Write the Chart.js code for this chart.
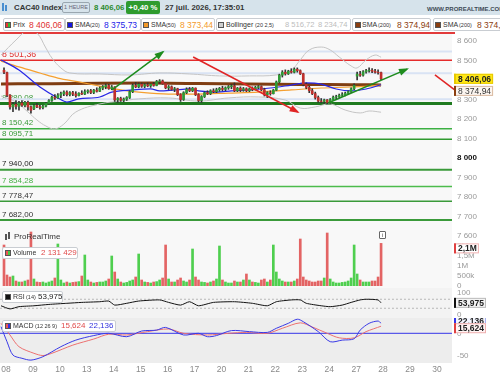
<!DOCTYPE html>
<html><head><meta charset="utf-8">
<script src="https://cdn.jsdelivr.net/npm/chart.js@4.4.1/dist/chart.umd.min.js"></script>
<style>
body{margin:0;width:500px;height:375px;overflow:hidden;background:#fff;font-family:"Liberation Sans",Arial,sans-serif;position:relative;color:#333}
.a{position:absolute;white-space:nowrap}
canvas{position:absolute;left:0}
.bx{position:absolute;border:1px solid #c9cdd2;border-radius:2px;background:#fff;box-sizing:border-box}
.ic{position:absolute;width:6px;height:6px;box-sizing:border-box;border:0.5px solid #555}
.n{font-size:7px;color:#333}
.p{font-size:5.5px;color:#333}
.v{font-size:8.5px}
.h{font-size:7.8px;font-weight:bold}
</style></head><body>
<!-- header -->
<div class="a" style="left:0;top:0;width:500px;height:15px;background:#d6e3eb"></div>
<div class="a" style="left:2px;top:3px;width:1.5px;height:8px;background:#4a8fd0"></div>
<div class="a" style="left:5px;top:5px;width:1.5px;height:6px;background:#4a8fd0"></div>
<div class="a h" style="left:14px;top:3px;color:#333">CAC40 Index</div>
<div class="a" style="left:62px;top:2px;height:11px;width:28px;border:1px solid #9aa7b0;border-radius:2px;box-sizing:border-box;font-size:5.5px;line-height:9px;text-align:center;color:#667">1 HEURE</div>
<div class="a h" style="left:94px;top:3px;color:#2b8a2b">8 406,06</div>
<div class="a" style="left:126px;top:1px;width:34px;height:13px;background:#2e9b2e;border-radius:2px;color:#fff;font-size:7.8px;font-weight:bold;line-height:13px;text-align:center">+0,40 %</div>
<div class="a h" style="left:165px;top:3px;color:#333">27 juil. 2026, 17:35:01</div>
<div class="a" style="left:427px;top:6px;font-size:6px;font-weight:bold;color:#3d4a55">WWW.PROREALTIME.COM</div>

<!-- legend row -->
<div class="bx" style="left:3px;top:18px;width:62px;height:13px"></div>
<div class="ic" style="left:5px;top:22px;background:linear-gradient(90deg,#e33 50%,#3b3 50%)"></div>
<div class="a n" style="left:13px;top:20.5px">Prix</div>
<div class="a v" style="left:29px;top:19.5px;color:#e03030">8 406,06</div>

<div class="bx" style="left:65px;top:18px;width:76px;height:13px"></div>
<div class="ic" style="left:67px;top:22px;background:#1515e0"></div>
<div class="a n" style="left:75px;top:20.5px">SMA</div>
<div class="a p" style="left:90px;top:21.5px">(20)</div>
<div class="a v" style="left:104px;top:19.5px;color:#2323e8">8 375,73</div>

<div class="bx" style="left:141px;top:18px;width:74px;height:13px"></div>
<div class="ic" style="left:143px;top:22px;background:#f39a2a"></div>
<div class="a n" style="left:151px;top:20.5px">SMA</div>
<div class="a p" style="left:166px;top:21.5px">(50)</div>
<div class="a v" style="left:180px;top:19.5px;color:#f39a2a">8 373,44</div>

<div class="bx" style="left:216px;top:18px;width:135px;height:13px"></div>
<div class="ic" style="left:218px;top:22px;background:#cfcfcf"></div>
<div class="a n" style="left:226px;top:20.5px">Bollinger</div>
<div class="a p" style="left:255px;top:21.5px">(20 2,5)</div>
<div class="a" style="left:285px;top:20px;font-size:7.6px;color:#bdbdbd">8 516,72</div>
<div class="a" style="left:318px;top:20px;font-size:7.6px;color:#bdbdbd">8 234,74</div>

<div class="bx" style="left:352px;top:18px;width:79px;height:13px"></div>
<div class="ic" style="left:355px;top:22px;background:#8b3e0f"></div>
<div class="a n" style="left:362px;top:20.5px">SMA</div>
<div class="a p" style="left:378px;top:21.5px">(200)</div>
<div class="a v" style="left:397px;top:19.5px;color:#8b3e0f">8 374,94</div>

<div class="bx" style="left:433px;top:18px;width:80px;height:13px"></div>
<div class="ic" style="left:435px;top:22px;background:#8b3e0f"></div>
<div class="a n" style="left:443px;top:20.5px">SMA</div>
<div class="a p" style="left:459px;top:21.5px">(200)</div>
<div class="a v" style="left:477px;top:19.5px;color:#8b3e0f">8 374,94</div>

<div class="a" style="left:0;top:32px;width:455px;height:1.5px;background:#e23b3b"></div>

<!-- panel backgrounds -->
<div class="a" style="left:0;top:34px;width:452px;height:254px;background:#f8f8f8"></div>
<div class="a" style="left:0;top:288px;width:452px;height:30px;background:#f3f3f3"></div>
<div class="a" style="left:0;top:318px;width:452px;height:45px;background:#ededed"></div>

<canvas id="cPrice" width="500" height="210" style="top:33px"></canvas>
<canvas id="cVol" width="500" height="64" style="top:226px"></canvas>
<canvas id="cRsi" width="500" height="30" style="top:288px"></canvas>
<canvas id="cMacd" width="500" height="57" style="top:318px"></canvas>

<!-- panel captions -->
<div class="a" style="left:5px;top:234px;width:1.5px;height:6px;background:#555"></div>
<div class="a" style="left:8px;top:232px;width:1.5px;height:7px;background:#555"></div>
<div class="a" style="left:14px;top:232px;font-size:8px;color:#333">ProRealTime</div>
<div class="a" style="left:379px;top:231px;width:7px;height:8px;border:1px solid #666;border-radius:1px;box-sizing:border-box;font-size:6px;line-height:6px;text-align:center;color:#444;background:#fff">i</div>

<div class="bx" style="left:2px;top:247px;width:76px;height:12px"></div>
<div class="ic" style="left:5px;top:250px;background:linear-gradient(90deg,#e55 50%,#4c4 50%)"></div>
<div class="a n" style="left:13px;top:249px">Volume</div>
<div class="a" style="left:41px;top:248px;font-size:8px;color:#e04a4a">2 131 429</div>

<div class="bx" style="left:2px;top:291px;width:61px;height:12px"></div>
<div class="ic" style="left:5px;top:294px;background:#111"></div>
<div class="a n" style="left:13px;top:293px">RSI</div>
<div class="a p" style="left:26px;top:294px">(14)</div>
<div class="a" style="left:38px;top:292px;font-size:8px;color:#222">53,975</div>

<div class="bx" style="left:2px;top:320px;width:114px;height:12px"></div>
<div class="ic" style="left:5px;top:323px;background:linear-gradient(90deg,#e55 50%,#33d 50%)"></div>
<div class="a n" style="left:13px;top:322px">MACD</div>
<div class="a p" style="left:35px;top:323px">(12 26 9)</div>
<div class="a" style="left:61px;top:321px;font-size:8px;color:#e04a4a">15,624</div>
<div class="a" style="left:89px;top:321px;font-size:8px;color:#3333dd">22,136</div>

<script>
// ---------- data ----------
const dayLabels = ['08','09','10','13','14','15','16','17','20','21','22','23','24','27','28','29','30'];
const firstIndex = -1; // first candle is the last hour of the previous session
const opens = [8450,
 8438,8322,8262,8275,8265,8282,8270,8285,8262,
 8252,8270,8262,8258,8266,8280,8295,8312,8308,
 8322,8330,8338,8325,8335,8328,8320,8332,8328,
 8340,8345,8336,8348,8342,8358,8366,8372,8356,
 8364,8298,8305,8296,8302,8310,8340,8372,8365,
 8378,8368,8375,8370,8378,8372,8392,8395,8382,
 8360,8365,8352,8355,8325,8300,8335,8352,8345,
 8358,8325,8295,8315,8335,8330,8345,8340,8350,
 8357,8352,8360,8366,8370,8345,8358,8348,8355,
 8345,8355,8350,8362,8366,8350,8325,8335,8330,
 8348,8390,8425,8440,8432,8445,8440,8455,8448,
 8432,8378,8362,8345,8330,8310,8292,8290,8298,
 8285,8300,8312,8315,8322,8325,8332,8340,8355,
 8420,8430,8425,8442,8448,8450,8445,8440,8438];
const highs = [8462,
 8440,8325,8285,8295,8290,8295,8290,8292,8268,
 8275,8280,8272,8270,8285,8300,8318,8325,8330,
 8338,8345,8345,8340,8342,8340,8335,8345,8350,
 8350,8352,8352,8360,8365,8372,8380,8378,8372,
 8366,8310,8312,8308,8315,8345,8380,8388,8385,
 8385,8382,8385,8380,8388,8398,8402,8400,8385,
 8372,8370,8362,8358,8330,8340,8360,8362,8362,
 8360,8330,8320,8340,8345,8350,8355,8358,8362,
 8368,8365,8372,8378,8385,8362,8365,8362,8360,
 8360,8365,8368,8372,8370,8358,8340,8345,8352,
 8395,8430,8448,8452,8450,8458,8462,8462,8452,
 8435,8385,8368,8355,8338,8318,8305,8302,8300,
 8305,8318,8322,8328,8335,8338,8345,8360,8380,
 8440,8445,8448,8455,8462,8458,8455,8452,8440];
const lows = [8432,
 8315,8250,8238,8250,8245,8265,8262,8245,8230,
 8248,8258,8250,8252,8262,8275,8290,8300,8305,
 8310,8320,8318,8318,8320,8312,8318,8325,8325,
 8332,8330,8330,8338,8340,8350,8355,8352,8350,
 8290,8285,8290,8288,8295,8305,8335,8360,8360,
 8362,8360,8365,8362,8368,8370,8382,8378,8355,
 8350,8348,8340,8320,8290,8295,8330,8340,8340,
 8320,8288,8285,8310,8325,8325,8335,8335,8342,
 8345,8345,8352,8355,8340,8340,8340,8342,8340,
 8340,8345,8348,8355,8345,8318,8310,8322,8328,
 8345,8385,8415,8425,8428,8435,8436,8440,8428,
 8370,8355,8335,8325,8302,8285,8282,8280,8278,
 8280,8295,8300,8310,8315,8318,8325,8335,8350,
 8400,8418,8420,8435,8440,8438,8435,8430,8402];
const closes = [8440,
 8322,8262,8275,8265,8282,8270,8285,8262,8245,
 8270,8262,8258,8266,8280,8295,8312,8308,8322,
 8330,8338,8325,8335,8328,8320,8332,8328,8340,
 8345,8336,8348,8342,8358,8366,8372,8356,8364,
 8298,8305,8296,8302,8310,8340,8372,8365,8378,
 8368,8375,8370,8378,8372,8392,8395,8382,8360,
 8365,8352,8355,8325,8300,8335,8352,8345,8358,
 8325,8295,8315,8335,8330,8345,8340,8350,8357,
 8352,8360,8366,8370,8345,8358,8348,8355,8345,
 8355,8350,8362,8366,8350,8325,8335,8330,8348,
 8390,8425,8440,8432,8445,8440,8455,8448,8432,
 8378,8362,8345,8330,8310,8292,8290,8298,8285,
 8300,8312,8315,8322,8325,8332,8340,8355,8372,
 8430,8425,8442,8448,8450,8445,8440,8438,8406.06];
const volumesM = [2.05,
 0.55,0.45,0.50,0.25,0.20,0.20,0.25,0.30,2.70,
 0.35,0.20,0.18,0.20,0.15,0.20,0.25,0.40,2.10,
 0.30,0.15,0.20,0.15,0.18,0.20,0.22,0.50,1.55,
 0.30,0.20,0.15,0.18,0.20,0.20,0.25,0.35,1.50,
 0.70,0.35,0.20,0.15,0.18,0.25,0.30,0.45,1.60,
 0.30,0.20,0.18,0.15,0.20,0.22,0.30,0.40,2.05,
 0.35,0.20,0.20,0.30,0.40,0.25,0.20,0.30,1.85,
 0.45,0.30,0.20,0.18,0.15,0.20,0.25,0.35,2.00,
 0.30,0.20,0.15,0.15,0.25,0.20,0.20,0.30,0.60,
 0.30,0.20,0.18,0.15,0.30,0.35,0.20,0.30,2.05,
 0.70,0.35,0.25,0.20,0.20,0.20,0.25,0.35,2.35,
 0.45,0.30,0.25,0.20,0.20,0.25,0.25,0.40,2.65,
 0.35,0.20,0.15,0.15,0.18,0.20,0.25,0.40,2.05,
 0.60,0.30,0.20,0.20,0.20,0.25,0.25,0.45,2.131429];

// indicator lines read at selected candle positions: [candle index, value]
const sma20 = [[-2,8503],[4,8451],[11,8364],[17,8308],[20,8287],[24,8303],[31,8313],[35,8338],[42,8349],[48,8354],[51,8344],[56,8349],[61,8354],[64,8344],[70,8338],[75,8344],[81,8349],[88,8359],[95,8374],[100,8385],[105,8379],[110,8354],[115,8344],[120,8354],[125,8375.73]];
const sma50 = [[-2,8497],[4,8467],[11,8436],[17,8410],[24,8390],[31,8369],[38,8349],[44,8338],[54,8328],[64,8328],[74,8333],[84,8338],[95,8349],[105,8359],[115,8364],[125,8373.44]];
const sma200 = [[-2,8380],[15,8381],[31,8383],[48,8384],[64,8382],[81,8379],[98,8377],[115,8376],[125,8374.94]];
const bollUpper = [[-2,8528],[3,8605],[7,8656],[10,8641],[13,8564],[15,8513],[18,8462],[21,8436],[31,8431],[41,8426],[51,8436],[61,8431],[71,8421],[81,8421],[90,8426],[95,8451],[98,8503],[101,8554],[105,8569],[108,8554],[111,8518],[115,8472],[117,8462],[120,8503],[123,8528],[125,8516.72]];
const bollLower = [[-2,8318],[3,8287],[7,8236],[10,8195],[13,8164],[16,8149],[19,8174],[23,8236],[31,8277],[38,8292],[44,8303],[54,8308],[64,8292],[74,8308],[84,8313],[93,8297],[98,8256],[103,8262],[108,8277],[113,8246],[118,8231],[121,8241],[125,8234.74]];
const rsi = [[-2,41],[1,27],[4,37],[9,41],[14,47],[20,52],[25,56],[31,59],[34,62],[36,44],[40,52],[44,62],[51,67],[54,56],[58,44],[61,59],[64,41],[69,56],[76,59],[82,52],[87,41],[90,59],[95,67],[98,67],[100,52],[105,41],[108,37],[112,44],[115,56],[118,67],[120,70],[124,67],[125,53.975]];
const macdLine = [[-2,14.6],[0,-18.5],[2,-48],[5,-55],[8,-59],[12,-51.5],[18,-29.5],[23,-15],[29,-5],[34,0],[40,-7.5],[45,5],[50,7],[53,13],[59,-3.7],[64,0],[67,-7.5],[70,-5],[75,6],[81,3.7],[87,2],[90,11],[94,22],[97,31],[99,25.6],[104,3.7],[108,-18.5],[112,-15],[116,-12],[118,7],[121,22],[124,27],[125,22.136]];
const macdSignal = [[-2,22],[1,-3.7],[4,-29.5],[9,-44],[12,-49],[15,-44],[22,-26],[29,-12.6],[34,-2],[40,-3.7],[47,3.7],[54,9.5],[59,0],[67,-3.7],[74,0],[80,2],[87,0],[92,11],[98,23],[102,14],[107,0],[111,-10],[116,-10],[120,3.7],[125,15.624]];

// horizontal levels and drawn trend arrows
const levelValues = [8501.36, 8280.08, 8150.42, 8095.71, 7940.00, 7854.28, 7778.47, 7682.00];
const guideValues = [8546, 8434, 8301];
const arrowsData = [
  [[35.1,8349],[52.1,8544]],
  [[62.2,8518],[97.2,8236]],
  [[107.3,8282],[133.7,8456]],
  [[143.0,8426],[149.6,8349]]
];
const priceTicks = [7600,7700,7800,7900,8000,8100,8200,8300,8400,8500,8600];
const volTicks = [0,0.5,1,1.5,2];
const volTickLabels = ['0','500k','1M','1,5M','2M'];
const rsiTicks = [0,100];
const macdTicks = [-50,0];

// ---------- styling ----------
const levelColors = ['#e52b2b','#1f7a1f','#3cb043','#2f9a2f','#3a9a3a','#4cbb4c','#3a9a3a','#3a9a3a'];
const levelWidths = [1.5,3,1.5,1.5,2,1.5,1.5,2];
const levelTextColors = ['#e03030','#3a9a3a','#3a9a3a','#3a9a3a','#222','#45b045','#333','#333'];
const levelTextSizes = [8.8,8,8,8,8,8,8,8];
const arrowColors = ['#1e8c1e','#e02525','#1e8c1e','#e02525'];
const FONT = '"Liberation Sans", Arial, sans-serif';
const xMin = -7/2.9926, xMax = 445/2.9926;

function fmtNum(v, dec){ const s = Math.abs(v).toFixed(dec); let [a,b] = s.split('.'); a = a.replace(/\B(?=(\d{3})+(?!\d))/g,' '); return (v<0?'-':'')+a+(b?','+b:''); }
const pts = arr => arr.map(p=>({x:p[0], y:p[1]}));
const isUp = i => closes[i] >= opens[i];

const boxPlugin = { id:'boxes', afterDraw(chart, args, opts){
  const ctx = chart.ctx, y = chart.scales.y;
  (opts.items||[]).forEach(b=>{
    const cy = y.getPixelForValue(b.value) + (b.dy||0);
    ctx.save();
    ctx.font = (b.bold?'bold ':'')+'8.5px '+FONT;
    const w = ctx.measureText(b.text).width + 6, h = 10, x0 = chart.chartArea.right + 2;
    ctx.fillStyle = b.bg; ctx.fillRect(x0, cy-h/2, w, h);
    ctx.strokeStyle = b.border; ctx.lineWidth = 1; ctx.strokeRect(x0+0.5, cy-h/2+0.5, w-1, h-1);
    ctx.fillStyle = b.bar; ctx.fillRect(x0, cy-h/2, 2, h);
    ctx.fillStyle = b.color; ctx.textBaseline = 'middle'; ctx.fillText(b.text, x0+4, cy+0.5);
    ctx.restore();
  });
}};

const levelTextPlugin = { id:'levelText', beforeDatasetsDraw(chart){
  const ctx = chart.ctx, y = chart.scales.y;
  ctx.save(); ctx.textBaseline = 'bottom';
  levelValues.forEach((v,i)=>{ ctx.font = levelTextSizes[i]+'px '+FONT; ctx.fillStyle = levelTextColors[i]; ctx.fillText(fmtNum(v,2), 2, y.getPixelForValue(v)-1.5); });
  ctx.restore();
}};

const arrowHeadPlugin = { id:'arrowHeads', afterDatasetsDraw(chart){
  const ctx = chart.ctx;
  chart.data.datasets.forEach((ds,di)=>{
    if(!ds.arrow || ds.noHead) return;
    const el = chart.getDatasetMeta(di).data;
    const a = el[0], b = el[1];
    const ang = Math.atan2(b.y-a.y, b.x-a.x), L = 8, W = 3.5;
    ctx.save(); ctx.fillStyle = ds.borderColor; ctx.beginPath();
    ctx.moveTo(b.x+2*Math.cos(ang), b.y+2*Math.sin(ang));
    ctx.lineTo(b.x-L*Math.cos(ang)+W*Math.sin(ang), b.y-L*Math.sin(ang)-W*Math.cos(ang));
    ctx.lineTo(b.x-L*Math.cos(ang)-W*Math.sin(ang), b.y-L*Math.sin(ang)+W*Math.cos(ang));
    ctx.closePath(); ctx.fill(); ctx.restore();
  });
}};

function xScale(display){
  return { type:'linear', min:xMin, max:xMax, offset:false, display,
    grid:{display:false, drawTicks:false}, border:{display:false},
    afterFit(s){ if(display){ s.height = 12; } s.paddingLeft = 0; s.paddingRight = 0; },
    afterBuildTicks(s){ s.ticks = dayLabels.map((d,j)=>({value: 9*j - 0.33})); },
    ticks:{ autoSkip:false, maxRotation:0, padding:2, color:'#8a8a8a', font:{family:FONT,size:8.5},
      callback:(v,i)=>dayLabels[i] } };
}
function yScale(min, max, ticks, labelFn, tickOpts){
  return { position:'right', min, max,
    grid:{display:false, drawTicks:false}, border:{display:false},
    afterFit(s){ s.width = 48; s.paddingTop = 0; s.paddingBottom = 0; },
    afterBuildTicks(s){ s.ticks = ticks.map(v=>({value:v})); },
    ticks: Object.assign({ autoSkip:false, padding:5, color:'#999', font:{family:FONT,size:8}, callback:labelFn }, tickOpts||{}) };
}
function baseOptions(scales, padding, boxes){
  return { responsive:false, animation:false, devicePixelRatio:1, layout:{padding},
    plugins:{ legend:{display:false}, tooltip:{enabled:false}, boxes:{items:boxes||[]} },
    elements:{ point:{radius:0} }, scales };
}
const lineDs = (data, color, width, order, extra) => Object.assign({ type:'line', data:pts(data), borderColor:color, borderWidth:width, pointRadius:0, fill:false, order, cubicInterpolationMode:'monotone' }, extra||{});

// ---------- price chart ----------
const priceDatasets = [];
guideValues.forEach(v=>priceDatasets.push(lineDs([[xMin-1,v],[xMax+1,v]], '#d9e3f4', 2, 60)));
levelValues.forEach((v,i)=>priceDatasets.push(lineDs([[xMin-1,v],[xMax+1,v]], levelColors[i], levelWidths[i], 50)));
priceDatasets.push(lineDs(bollUpper, '#c4c4c4', 1, 40, {tension:0.4, cubicInterpolationMode:'default'}));
priceDatasets.push(lineDs(bollLower, '#c4c4c4', 1, 40, {tension:0.4, cubicInterpolationMode:'default'}));
priceDatasets.push(lineDs(sma200, '#7f3d12', 3, 30));
priceDatasets.push(lineDs(sma50, '#f5a030', 1.2, 29));
priceDatasets.push(lineDs(sma20, '#2727e6', 1.2, 28));
priceDatasets.push({ type:'bar', data: lows.map((l,i)=>({x:i+firstIndex, y:[l, highs[i]]})), backgroundColor:'#333', barThickness:1, grouped:false, order:20 });
priceDatasets.push({ type:'bar', data: opens.map((o,i)=>({x:i+firstIndex, y:[o, closes[i]]})), backgroundColor: opens.map((o,i)=>isUp(i)?'#2f9a35':'#c0302c'), borderWidth:0, barThickness:2, grouped:false, order:19 });
arrowsData.forEach((a,i)=>priceDatasets.push(lineDs(a, arrowColors[i], 1.5, 5, {arrow:true, noHead: i===3, cubicInterpolationMode:'default', clip: i===3 ? false : undefined})));

new Chart(document.getElementById('cPrice'), {
  type:'bar', data:{ datasets: priceDatasets },
  options: baseOptions({
    x: xScale(false),
    y: yScale(7589.74, 8641.03, priceTicks, v=>fmtNum(v,0), {
        color:c=>c.tick && c.tick.value===8000 ? '#111':'#999',
        font:c=>({family:FONT, size:8, weight: c.tick && c.tick.value===8000 ? 'bold':'normal'}) })
  }, {top:0,bottom:5,left:0,right:0}, [
    {value:closes[closes.length-1], text:fmtNum(closes[closes.length-1],2), bg:'#ffe817', border:'#e8c800', bar:'#e8c800', color:'#222', bold:true},
    {value:sma200[sma200.length-1][1], dy:6, text:fmtNum(sma200[sma200.length-1][1],2), bg:'#fbf5f0', border:'#d9b9a0', bar:'#8b3e0f', color:'#333'}
  ]),
  plugins:[levelTextPlugin, arrowHeadPlugin, boxPlugin]
});

// ---------- volume chart ----------
new Chart(document.getElementById('cVol'), {
  type:'bar',
  data:{ datasets:[{ data: volumesM.map((v,i)=>({x:i+firstIndex, y:v})), backgroundColor: volumesM.map((v,i)=>isUp(i)?'#4fcf4f':'#e36464'), barThickness:2, grouped:false }]},
  options: baseOptions({ x: xScale(false), y: yScale(0, 3, volTicks, (v,i)=>volTickLabels[i]) }, {top:0,bottom:4,left:0,right:0},
    [{value:volumesM[volumesM.length-1], dy:5, text:'2,1M', bg:'#fff', border:'#f0b0b0', bar:'#e04040', color:'#222', bold:true}]),
  plugins:[boxPlugin]
});

// ---------- RSI chart ----------
new Chart(document.getElementById('cRsi'), {
  type:'line',
  data:{ datasets:[
    lineDs([[xMin,70],[xMax,70]], '#aaa', 0.8, 10, {borderDash:[2,2]}),
    lineDs([[xMin,30],[xMax,30]], '#aaa', 0.8, 10, {borderDash:[2,2]}),
    lineDs(rsi, '#111', 1, 1, {cubicInterpolationMode:'default', tension:0.2})
  ]},
  options: baseOptions({ x: xScale(false), y: yScale(0, 100, rsiTicks, v=>String(v)) }, {top:4.5,bottom:3,left:0,right:0},
    [{value:rsi[rsi.length-1][1], text:fmtNum(rsi[rsi.length-1][1],3), bg:'#f4f4f4', border:'#bbb', bar:'#111', color:'#222', bold:true}]),
  plugins:[boxPlugin]
});

// ---------- MACD chart ----------
new Chart(document.getElementById('cMacd'), {
  type:'line',
  data:{ datasets:[
    lineDs([[xMin,0],[xMax,0]], '#3535e8', 1, 10),
    lineDs(macdSignal, '#ec7070', 1, 2, {cubicInterpolationMode:'default', tension:0.3}),
    lineDs(macdLine, '#3a3ae6', 1, 1, {cubicInterpolationMode:'default', tension:0.3})
  ]},
  options: baseOptions({ x: xScale(true), y: yScale(-65.4, 33.7, macdTicks, v=>String(v)) }, {top:0,bottom:0,left:0,right:0},
    [{value:macdLine[macdLine.length-1][1], dy:-2, text:'22.136', bg:'#f4f6ff', border:'#a8b0ef', bar:'#3535e8', color:'#222', bold:true},
     {value:macdSignal[macdSignal.length-1][1], dy:2, text:fmtNum(macdSignal[macdSignal.length-1][1],3), bg:'#fff4f4', border:'#efb0b0', bar:'#e04040', color:'#222', bold:true}]),
  plugins:[boxPlugin]
});
</script>
</body></html>
